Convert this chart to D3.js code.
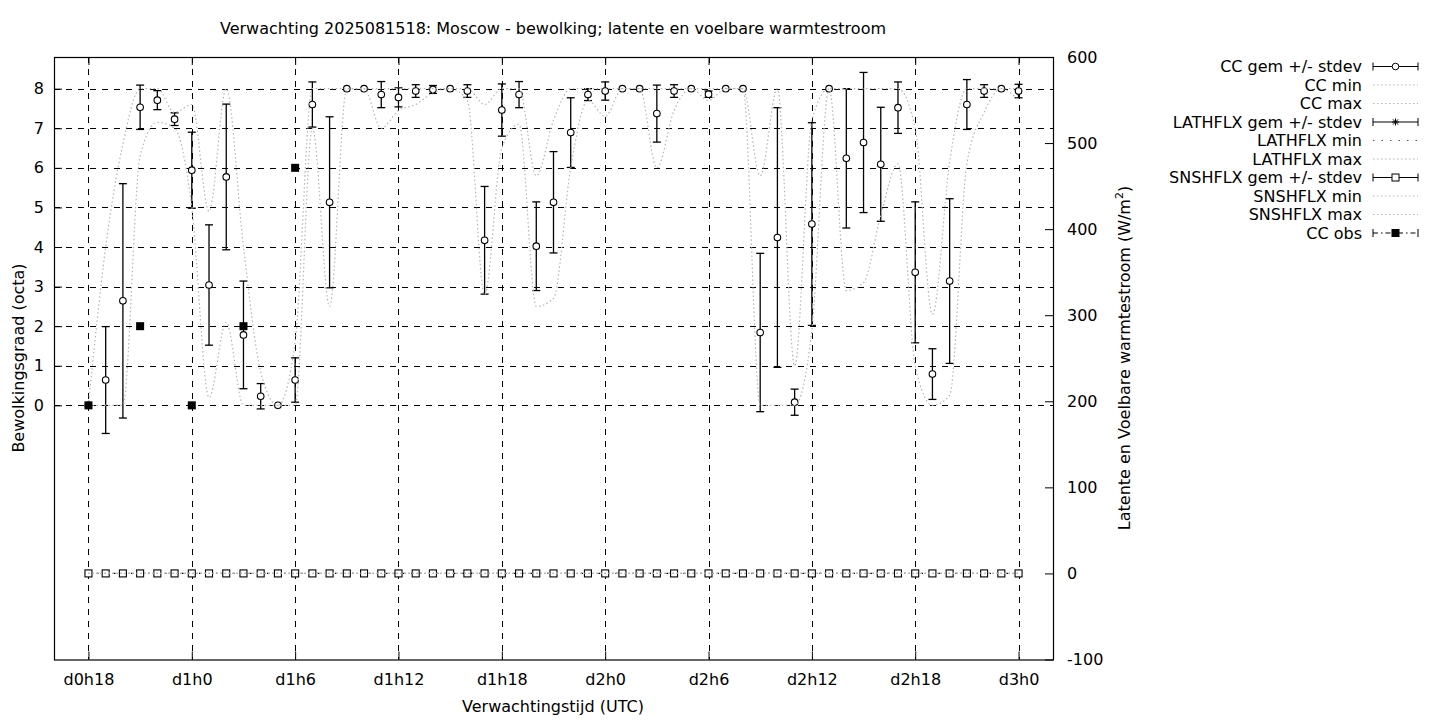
<!DOCTYPE html>
<html><head><meta charset="utf-8">
<script src="https://cdn.jsdelivr.net/npm/d3@7/dist/d3.min.js"></script>
<style>body{margin:0;background:#fff}svg{display:block}text{font-family:"DejaVu Sans",sans-serif;fill:#000}</style>
</head><body><svg id="c" width="1440" height="720"></svg>
<script>
// ---------- data ----------
const hours = [0,1,2,3,4,5,6,7,8,9,10,11,12,13,14,15,16,17,18,19,20,21,22,23,24,25,26,27,28,29,30,31,32,33,34,35,36,37,38,39,40,41,42,43,44,45,46,47,48,49,50,51,52,53,54];
const tickHours = [0,6,12,18,24,30,36,42,48,54];
const tickLabels = ["d0h18","d1h0","d1h6","d1h12","d1h18","d2h0","d2h6","d2h12","d2h18","d3h0"];
const leftTicks = [0,1,2,3,4,5,6,7,8];
const rightTicks = [-100,0,100,200,300,400,500,600];

const ccMean = [0,0.64,2.64,7.53,7.71,7.23,5.94,3.04,5.77,1.78,0.23,0,0.64,7.6,5.13,8,8,7.85,7.78,7.94,7.98,8,7.94,4.17,7.46,7.85,4.02,5.13,6.89,7.85,7.94,8,8,7.37,7.94,8,7.86,8,8,1.84,4.24,0.08,4.58,8,6.24,6.64,6.09,7.52,3.36,0.79,3.14,7.6,7.94,8,7.94];
const ccStd  = [0,1.35,2.96,0.56,0.24,0.16,0.96,1.52,1.84,1.36,0.32,0,0.56,0.57,2.16,0,0,0.33,0.24,0.16,0.1,0,0.16,1.36,0.66,0.33,1.12,1.28,0.88,0.15,0.23,0,0,0.72,0.16,0,0.08,0,0,2.0,3.28,0.33,2.56,0,1.76,1.77,1.44,0.65,1.78,0.64,2.08,0.63,0.16,0,0.17];
const ccMin  = [0,0,0,6.3,7.15,7.0,5.0,0.2,2.1,0,0,0,0,7.0,2.5,8,8,7.0,7.45,7.6,7.9,8,7.7,2.8,6.5,7.1,2.5,2.7,6.0,7.7,7.3,8,8,6.0,7.45,8,7.7,8,8,0,0,0,1.9,8,2.9,3.1,4.8,6.1,1.0,0,0.25,6.1,7.4,8,7.7];
const ccMax  = [0,4.0,6.6,8,8,7.4,7.6,4.9,8,4.0,0.85,0,1.6,8,8,8,8,8,8,8,8,8,8,7.6,8,8,5.8,7.2,8,8,8,8,8,8,8,8,8,8,8,5.8,8,1.0,7.2,8,8,8,8,8,7.0,2.3,6.15,8,8,8,8];
const obsHours  = [0,3,6,9,12];
const obsValues = [0,2,0,2,6];

const lathMean = [0,0,0,0,0,0,0,0,0,0,0,0,0,0,0,0,0,0,0,0,0,0,0,0,0,0,0,0,0,0,0,0,0,0,0,0,0,0,0,0,0,0,0,0,0,0,0,0,0,0,0,0,0,0,0];
const lathMin  = [0,0,0,0,0,0,0,0,0,0,0,0,0,0,0,0,0,0,0,0,0,0,0,0,0,0,0,0,0,0,0,0,0,0,0,0,0,0,0,0,0,0,0,0,0,0,0,0,0,0,0,0,0,0,0];
const lathMax  = [0,0,0,0,0,0,0,0,0,0,0,0,0,0,0,0,0,0,0,0,0,0,0,0,0,0,0,0,0,0,0,0,0,0,0,0,0,0,0,0,0,0,0,0,0,0,0,0,0,0,0,0,0,0,0];
const snsMean  = [0,0,0,0,0,0,0,0,0,0,0,0,0,0,0,0,0,0,0,0,0,0,0,0,0,0,0,0,0,0,0,0,0,0,0,0,0,0,0,0,0,0,0,0,0,0,0,0,0,0,0,0,0,0,0];
const snsMin   = [0,0,0,0,0,0,0,0,0,0,0,0,0,0,0,0,0,0,0,0,0,0,0,0,0,0,0,0,0,0,0,0,0,0,0,0,0,0,0,0,0,0,0,0,0,0,0,0,0,0,0,0,0,0,0];
const snsMax   = [0,0,0,0,0,0,0,0,0,0,0,0,0,0,0,0,0,0,0,0,0,0,0,0,0,0,0,0,0,0,0,0,0,0,0,0,0,0,0,0,0,0,0,0,0,0,0,0,0,0,0,0,0,0,0];

const legendLabels = ["CC gem +/- stdev","CC min","CC max","LATHFLX gem +/- stdev","LATHFLX min","LATHFLX max","SNSHFLX gem +/- stdev","SNSHFLX min","SNSHFLX max","CC obs"];

// ---------- layout ----------
const L = 54, R = 1053, T = 57, B = 659.5;
const svg = d3.select("#c");
const x = d3.scaleLinear().domain([-2, 56]).range([L, R]);
const yL = d3.scaleLinear().domain([-6.42, 8.8]).range([B, T]);
const yR = d3.scaleLinear().domain([-100, 600]).range([B, T]);
const GRAY = "#b4b4b4";
const FS = 16;

// grid
const grid = svg.append("g").attr("stroke", "#000").attr("stroke-width", 1).attr("stroke-dasharray", "6,6");
grid.selectAll(".hg").data(leftTicks).join("line")
  .attr("x1", L).attr("x2", R).attr("y1", d => Math.round(yL(d)) + 0.5).attr("y2", d => Math.round(yL(d)) + 0.5);
grid.selectAll(".vg").data(tickHours).join("line")
  .attr("y1", T).attr("y2", B).attr("x1", d => Math.round(x(d)) + 0.5).attr("x2", d => Math.round(x(d)) + 0.5);

// axes
const axL = svg.append("g").attr("transform", `translate(${L},0)`)
  .call(d3.axisLeft(yL).tickValues(leftTicks).tickSizeInner(-8).tickSizeOuter(0).tickPadding(10).tickFormat(d => String(d)));
const axR = svg.append("g").attr("transform", `translate(${R},0)`)
  .call(d3.axisRight(yR).tickValues(rightTicks).tickSizeInner(-8).tickSizeOuter(0).tickPadding(14).tickFormat(d => String(d)));
const axB = svg.append("g").attr("transform", `translate(0,${B})`)
  .call(d3.axisBottom(x).tickValues(tickHours).tickSizeInner(-8).tickSizeOuter(0).tickPadding(14).tickFormat((d, i) => tickLabels[i]));
const axT = svg.append("g").attr("transform", `translate(0,${T})`)
  .call(d3.axisTop(x).tickValues(tickHours).tickSizeInner(-8).tickSizeOuter(0).tickFormat(""));
[axL, axR, axB, axT].forEach(g => {
  g.select(".domain").remove();
  g.selectAll("text").attr("font-size", FS).attr("font-family", "DejaVu Sans").attr("fill", "#000");
  g.selectAll("line").attr("stroke", "#000");
});

// frame
svg.append("rect").attr("x", L + 0.5).attr("y", T + 0.5).attr("width", R - L).attr("height", B - T)
  .attr("fill", "none").attr("stroke", "#000").attr("stroke-width", 1.2);

// ---------- CC mean +/- stdev ----------
const eb = svg.append("g").attr("stroke", "#000").attr("stroke-width", 1.3);
hours.forEach((h, i) => {
  if (ccStd[i] <= 0) return;
  const cx = x(h), y1 = yL(ccMean[i] + ccStd[i]), y2 = yL(ccMean[i] - ccStd[i]);
  eb.append("line").attr("x1", cx).attr("x2", cx).attr("y1", y1).attr("y2", y2);
  eb.append("line").attr("x1", cx - 4).attr("x2", cx + 4).attr("y1", y1).attr("y2", y1);
  eb.append("line").attr("x1", cx - 4).attr("x2", cx + 4).attr("y1", y2).attr("y2", y2);
});
svg.append("g").selectAll("circle").data(hours).join("circle")
  .attr("cx", d => x(d)).attr("cy", (d, i) => yL(ccMean[i])).attr("r", 3.3)
  .attr("fill", "#fff").attr("stroke", "#000").attr("stroke-width", 1.1);

// CC min / max
const lineL = arr => d3.line().x((d, i) => x(hours[i])).y((d, i) => yL(arr[i])).curve(d3.curveMonotoneX)(arr);
const lineR = arr => d3.line().x((d, i) => x(hours[i])).y((d, i) => yR(arr[i])).curve(d3.curveMonotoneX)(arr);
[ccMin, ccMax].forEach(a => svg.append("path").attr("d", lineL(a)).attr("fill", "none")
  .attr("stroke", GRAY).attr("stroke-width", 1.2).attr("stroke-dasharray", "1.5,2.5"));

// ---------- LATHFLX ----------
const star = (g, cx, cy, s) => {
  g.append("path").attr("d", `M${cx - s},${cy}H${cx + s}M${cx},${cy - s}V${cy + s}M${cx - s * 0.75},${cy - s * 0.75}L${cx + s * 0.75},${cy + s * 0.75}M${cx - s * 0.75},${cy + s * 0.75}L${cx + s * 0.75},${cy - s * 0.75}`)
    .attr("stroke", "#000").attr("stroke-width", 1).attr("fill", "none");
};
const lg = svg.append("g");
hours.forEach((h, i) => star(lg, x(h), yR(lathMean[i]), 3.5));
svg.append("path").attr("d", lineR(lathMin)).attr("fill", "none").attr("stroke", "#000").attr("stroke-width", 1.2).attr("stroke-dasharray", "1.5,7");
svg.append("path").attr("d", lineR(lathMax)).attr("fill", "none").attr("stroke", GRAY).attr("stroke-width", 1.2).attr("stroke-dasharray", "1.5,2.5");

// ---------- SNSHFLX ----------
svg.append("g").selectAll("rect").data(hours).join("rect")
  .attr("x", d => x(d) - 3.5).attr("y", (d, i) => yR(snsMean[i]) - 3.5).attr("width", 7).attr("height", 7)
  .attr("fill", "#fff").attr("stroke", "#000").attr("stroke-width", 1.1);
[snsMin, snsMax].forEach(a => svg.append("path").attr("d", lineR(a)).attr("fill", "none")
  .attr("stroke", GRAY).attr("stroke-width", 1.2).attr("stroke-dasharray", "1.5,2.5"));

// ---------- CC obs ----------
svg.append("g").selectAll("rect").data(obsHours).join("rect")
  .attr("x", d => x(d) - 4).attr("y", (d, i) => yL(obsValues[i]) - 4).attr("width", 8).attr("height", 8).attr("fill", "#000");

// ---------- texts ----------
svg.append("text").attr("x", 553).attr("y", 34).attr("text-anchor", "middle").attr("font-size", FS)
  .text("Verwachting 2025081518: Moscow - bewolking; latente en voelbare warmtestroom");
svg.append("text").attr("x", 553).attr("y", 712).attr("text-anchor", "middle").attr("font-size", FS)
  .text("Verwachtingstijd (UTC)");
svg.append("text").attr("transform", "translate(24,358) rotate(-90)").attr("text-anchor", "middle").attr("font-size", FS)
  .text("Bewolkingsgraad (octa)");
const rl = svg.append("text").attr("transform", "translate(1130,358) rotate(-90)").attr("text-anchor", "middle").attr("font-size", FS);
rl.append("tspan").text("Latente en Voelbare warmtestroom (W/m");
rl.append("tspan").attr("font-size", 11).attr("dy", -7).text("2");
rl.append("tspan").attr("dy", 7).text(")");

// ---------- legend ----------
const leg = svg.append("g");
const lx1 = 1373, lx2 = 1418, lxm = (lx1 + lx2) / 2;
legendLabels.forEach((lab, i) => {
  const y = 66.5 + 18.5 * i;
  leg.append("text").attr("x", 1362).attr("y", y + 5.5).attr("text-anchor", "end").attr("font-size", FS).text(lab);
  const g = leg.append("g");
  const caps = () => {
    g.append("line").attr("x1", lx1).attr("x2", lx1).attr("y1", y - 4).attr("y2", y + 4).attr("stroke", "#000");
    g.append("line").attr("x1", lx2).attr("x2", lx2).attr("y1", y - 4).attr("y2", y + 4).attr("stroke", "#000");
  };
  if (i === 0 || i === 3 || i === 6) {
    g.append("line").attr("x1", lx1).attr("x2", lx2).attr("y1", y).attr("y2", y).attr("stroke", "#000").attr("stroke-width", 1.2);
    caps();
    if (i === 0) g.append("circle").attr("cx", lxm).attr("cy", y).attr("r", 3.3).attr("fill", "#fff").attr("stroke", "#000");
    if (i === 3) star(g, lxm, y, 3.5);
    if (i === 6) g.append("rect").attr("x", lxm - 3.5).attr("y", y - 3.5).attr("width", 7).attr("height", 7).attr("fill", "#fff").attr("stroke", "#000");
  } else if (i === 4) {
    g.append("line").attr("x1", lx1).attr("x2", lx2).attr("y1", y).attr("y2", y).attr("stroke", "#555").attr("stroke-width", 1.2).attr("stroke-dasharray", "1.5,7");
  } else if (i === 9) {
    g.append("line").attr("x1", lx1).attr("x2", lx2).attr("y1", y).attr("y2", y).attr("stroke", "#000").attr("stroke-width", 1.1).attr("stroke-dasharray", "5,3,1.5,3");
    caps();
    g.append("rect").attr("x", lxm - 4).attr("y", y - 4).attr("width", 8).attr("height", 8).attr("fill", "#000");
  } else {
    g.append("line").attr("x1", lx1).attr("x2", lx2).attr("y1", y).attr("y2", y).attr("stroke", GRAY).attr("stroke-width", 1.2).attr("stroke-dasharray", "1.5,2.5");
  }
});
</script></body></html>
